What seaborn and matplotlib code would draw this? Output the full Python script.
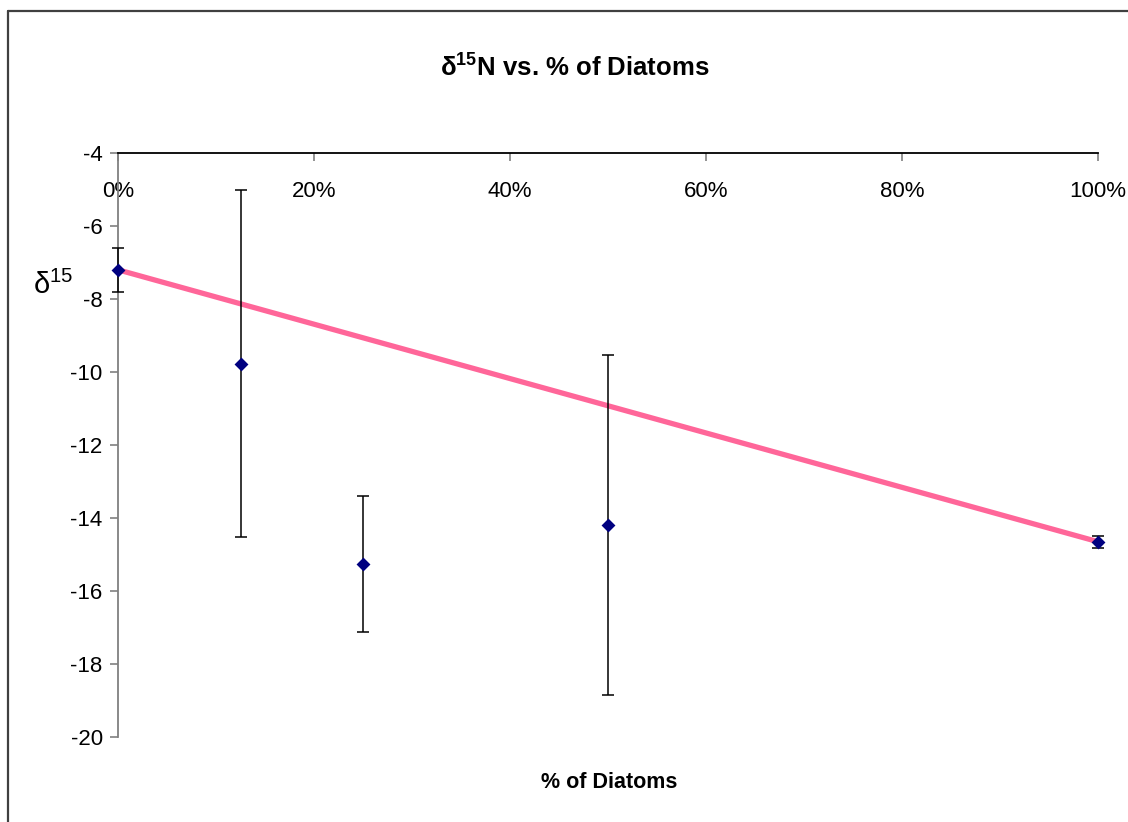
import matplotlib
matplotlib.use("Agg")
import matplotlib.pyplot as plt
from matplotlib.lines import Line2D
from matplotlib.ticker import FuncFormatter
import pandas as pd
import seaborn as sns

# Mean delta-15N per diatom share, with one-sided error (SD)
diatom_pct = [0, 12.5, 25, 50, 100]
d15n_mean = [-7.2, -9.77, -15.27, -14.2, -14.65]
d15n_err = [0.61, 4.75, 1.86, 4.66, 0.16]

# Linear trend drawn across the full range
trend_pct = [0, 100]
trend_d15n = [-7.2, -14.65]

x_ticks = [0, 20, 40, 60, 80, 100]
y_ticks = [-4, -6, -8, -10, -12, -14, -16, -18, -20]

sns.set_theme(style="white")
plt.rcParams["font.family"] = ["Liberation Sans", "DejaVu Sans"]
plt.rcParams["text.color"] = "black"
plt.rcParams["axes.unicode_minus"] = False
plt.rcParams["mathtext.fontset"] = "custom"
plt.rcParams["mathtext.rm"] = "Liberation Sans"
plt.rcParams["mathtext.bf"] = "Liberation Sans:bold"

points = pd.DataFrame({"pct": diatom_pct, "d15n": d15n_mean, "err": d15n_err})
trend = pd.DataFrame({"pct": trend_pct, "d15n": trend_d15n})

fig = plt.figure(figsize=(11.28, 8.22), dpi=100)
ax = fig.add_axes([118 / 1128, 1 - 737 / 822, 980 / 1128, 584 / 822])

sns.lineplot(data=trend, x="pct", y="d15n", ax=ax, color="#FF6699",
             linewidth=3.8, zorder=2, legend=False)
eb = ax.errorbar(points["pct"], points["d15n"], yerr=points["err"], fmt="none",
                 ecolor="black", elinewidth=1.1, capsize=4.6, capthick=1.1,
                 zorder=3)
for artist in eb.lines[1] + eb.lines[2]:
    artist.set_clip_on(False)
sns.scatterplot(data=points, x="pct", y="d15n", ax=ax, marker="D", s=50,
                color="#000080", edgecolor="#000080", linewidth=0, zorder=4,
                legend=False, clip_on=False)

ax.set_xlim(0, 100)
ax.set_ylim(-20, -4)
ax.set_xticks(x_ticks)
ax.set_yticks(y_ticks)
ax.xaxis.set_major_formatter(FuncFormatter(lambda v, _: f"{v:.0f}%"))

# Category axis sits at the top of the plot, labels hang below it
ax.spines["bottom"].set_position(("data", -4))
ax.spines["bottom"].set_color("black")
ax.spines["bottom"].set_linewidth(1.3)
ax.spines["left"].set_color("#808080")
ax.spines["left"].set_linewidth(1.3)
ax.spines["top"].set_visible(False)
ax.spines["right"].set_visible(False)

ax.tick_params(axis="x", direction="out", length=6, width=1.2, color="#808080",
               pad=14, labelsize=16, labelcolor="black", bottom=True)
ax.tick_params(axis="y", direction="out", length=6, width=1.2, color="#808080",
               pad=5, labelsize=16, labelcolor="black", left=True)
ax.set_xlabel("")
ax.set_ylabel("")
ax.grid(False)

fig.text(575 / 1128, 1 - 67 / 822, "δ$^{\\mathbf{15}}$N vs. % of Diatoms",
         ha="center", va="center", fontsize=18.5, fontweight="bold",
         color="black")
fig.text(609 / 1128, 1 - 782 / 822, "% of Diatoms", ha="center", va="center",
         fontsize=15.5, fontweight="bold", color="black")
fig.text(33 / 1128, 1 - 285 / 822, "δ$^{15}$", ha="left", va="center",
         fontsize=21, color="black")

# Chart-area border (left and top edges)
border = dict(color="#404040", linewidth=1.6, transform=fig.transFigure)
fig.add_artist(Line2D([8 / 1128, 8 / 1128], [0, 1 - 11 / 822], **border))
fig.add_artist(Line2D([8 / 1128, 1], [1 - 11 / 822, 1 - 11 / 822], **border))

fig.savefig("out.png", dpi=100, facecolor="white")
